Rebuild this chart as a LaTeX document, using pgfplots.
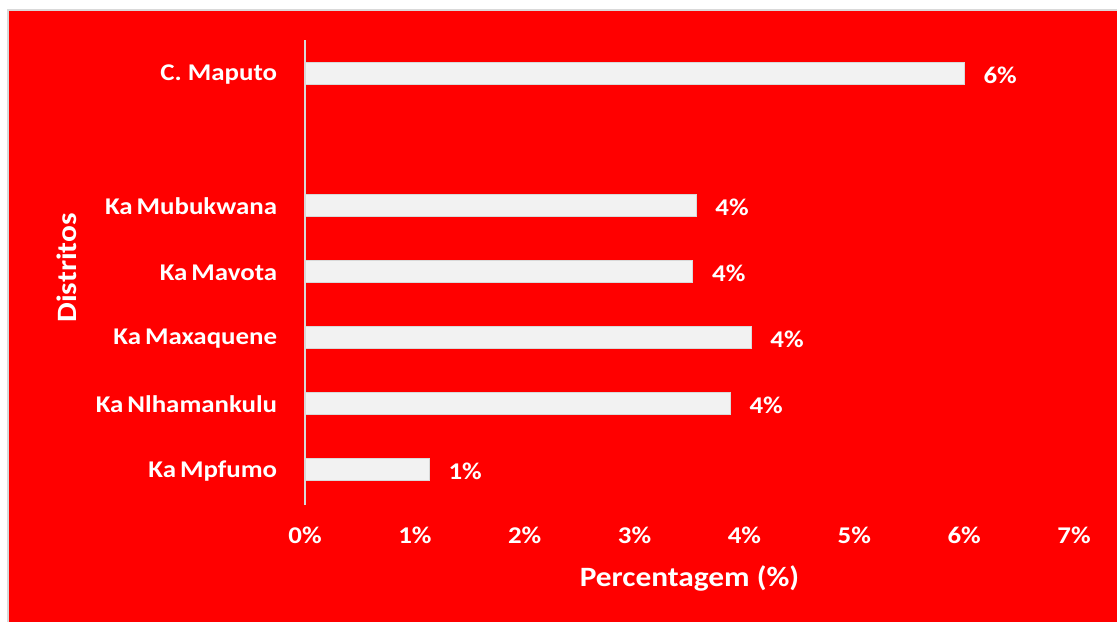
\documentclass[border=0pt]{standalone}
\usepackage{fontspec}
\setmainfont{Carlito}[FakeStretch=1.12]
\usepackage{pgfplots}
\pgfplotsset{compat=1.18}
\definecolor{bgred}{HTML}{FF0000}
\definecolor{barcol}{HTML}{F2F2F2}
\definecolor{axcol}{HTML}{D9D9D9}
\begin{document}
\begin{tikzpicture}
\useasboundingbox (0,0) rectangle (558.5pt,311pt);
\fill[white] (0,0) rectangle (558.5pt,311pt);
\fill[bgred] (4pt,0) rectangle (558.5pt,306pt);
\draw[axcol,line width=0.8pt] (4pt,0) -- (4pt,306pt) -- (558.5pt,306pt);
\begin{axis}[
  at={(152.5pt,58.5pt)}, anchor=south west,
  scale only axis, width=384.5pt, height=232.5pt,
  xmin=0, xmax=7, ymin=-0.545, ymax=6.5,
  xbar, bar width=0.333,
  axis lines*=left,
  x axis line style={draw=none},
  y axis line style={draw=axcol, line width=0.6pt},
  tick style={draw=none},
  xtick={0,1,2,3,4,5,6,7},
  xticklabels={0\%,1\%,2\%,3\%,4\%,5\%,6\%,7\%},
  ytick={0,1,2,3,4,6},
  yticklabels={Ka\,Mpfumo,Ka\,Nlhamankulu,Ka\,Maxaquene,Ka\,Mavota,Ka\,Mubukwana,C. Maputo},
  every tick label/.append style={font=\fontsize{12}{14}\selectfont\bfseries, text=white, inner sep=0pt},
  xticklabel style={anchor=north, yshift=-11pt},
  yticklabel style={anchor=east, xshift=-9.5pt, yshift=-0.8pt},
  xlabel={Percentagem (\%)},
  ylabel={Distritos},
  label style={font=\fontsize{14}{16}\selectfont\bfseries, text=white, inner sep=0pt},
  xlabel style={at={(axis description cs:0.5,0)}, anchor=base, yshift=-40.5pt},
  ylabel style={at={(axis description cs:0,0.51)}, anchor=base, yshift=114pt},
  nodes near coords,
  point meta=explicit symbolic,
  every node near coord/.append style={font=\fontsize{12}{14}\selectfont\bfseries, text=white, anchor=west, inner sep=0pt, xshift=9.5pt, yshift=-1.2pt},
]
\addplot[fill=barcol, draw=axcol, line width=0.4pt] coordinates {
  (1.13,0) [1\%]
  (3.87,1) [4\%]
  (4.06,2) [4\%]
  (3.53,3) [4\%]
  (3.56,4) [4\%]
  (6.00,6) [6\%]
};
\end{axis}
\end{tikzpicture}
\end{document}
